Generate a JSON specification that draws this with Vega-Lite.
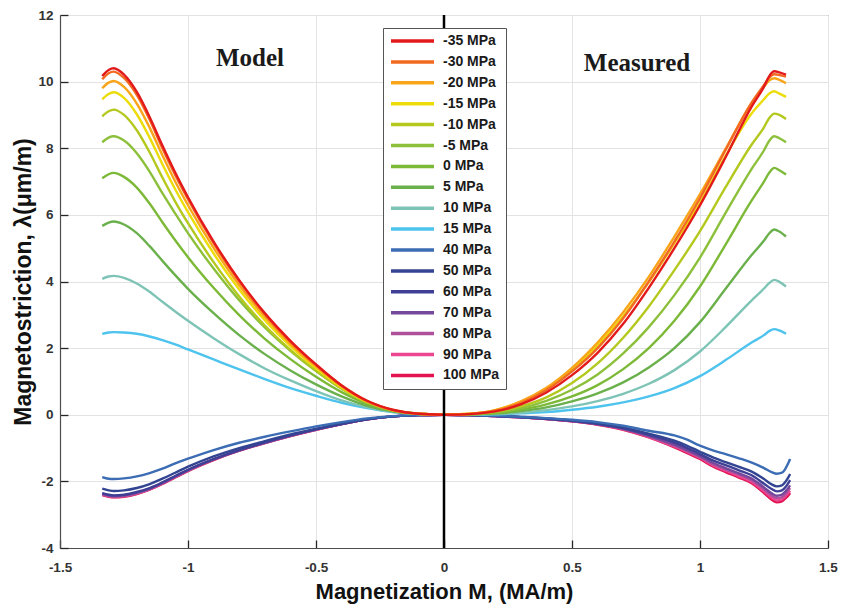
{
"$schema": "https://vega.github.io/schema/vega-lite/v6.json",
"width": 768, "height": 533,
"autosize": "none",
"padding": {"left": 60, "top": 15, "right": 13, "bottom": 63},
"background": "white",
"config": {
  "view": {"stroke": "#4d4d4d", "strokeWidth": 1},
  "font": "Liberation Sans",
  "axis": {"domainColor": "#4d4d4d", "domainWidth": 1.2, "gridColor": "#e3e3e3", "gridWidth": 1, "tickColor": "#262626", "tickWidth": 1.3, "tickSize": -8, "labelPadding": 15, "labelFont": "Liberation Sans", "labelFontWeight": "bold", "labelFontSize": 13.5, "labelColor": "#333333", "titleFont": "Liberation Sans", "titleFontWeight": "bold", "titleFontSize": 22, "titleColor": "#111111", "labelFlush": false, "labelOverlap": false}
},
"layer": [
{
"data": {"values": [
{"s":"100 MPa","p":"a","x":-1.335,"y":-2.41},{"s":"100 MPa","p":"a","x":-1.31,"y":-2.46},{"s":"100 MPa","p":"a","x":-1.29,"y":-2.48},{"s":"100 MPa","p":"a","x":-1.25,"y":-2.46},{"s":"100 MPa","p":"a","x":-1.2,"y":-2.38},{"s":"100 MPa","p":"a","x":-1.15,"y":-2.25},{"s":"100 MPa","p":"a","x":-1.1,"y":-2.08},{"s":"100 MPa","p":"a","x":-1.05,"y":-1.88},{"s":"100 MPa","p":"a","x":-1.0,"y":-1.69},{"s":"100 MPa","p":"a","x":-0.9,"y":-1.36},{"s":"100 MPa","p":"a","x":-0.8,"y":-1.08},{"s":"100 MPa","p":"a","x":-0.7,"y":-0.85},{"s":"100 MPa","p":"a","x":-0.6,"y":-0.64},{"s":"100 MPa","p":"a","x":-0.5,"y":-0.45},{"s":"100 MPa","p":"a","x":-0.4,"y":-0.28},{"s":"100 MPa","p":"a","x":-0.3,"y":-0.14},{"s":"100 MPa","p":"a","x":-0.2,"y":-0.05},{"s":"100 MPa","p":"a","x":-0.1,"y":-0.01},{"s":"100 MPa","p":"a","x":0,"y":0},
{"s":"100 MPa","p":"b","x":0,"y":0},{"s":"100 MPa","p":"b","x":0.1,"y":-0.01},{"s":"100 MPa","p":"b","x":0.2,"y":-0.04},{"s":"100 MPa","p":"b","x":0.3,"y":-0.08},{"s":"100 MPa","p":"b","x":0.4,"y":-0.13},{"s":"100 MPa","p":"b","x":0.5,"y":-0.2},{"s":"100 MPa","p":"b","x":0.6,"y":-0.3},{"s":"100 MPa","p":"b","x":0.7,"y":-0.45},{"s":"100 MPa","p":"b","x":0.8,"y":-0.68},{"s":"100 MPa","p":"b","x":0.9,"y":-0.98},{"s":"100 MPa","p":"b","x":0.95,"y":-1.15},{"s":"100 MPa","p":"b","x":1.0,"y":-1.33},{"s":"100 MPa","p":"b","x":1.05,"y":-1.55},{"s":"100 MPa","p":"b","x":1.1,"y":-1.72},{"s":"100 MPa","p":"b","x":1.15,"y":-1.88},{"s":"100 MPa","p":"b","x":1.2,"y":-2.05},{"s":"100 MPa","p":"b","x":1.25,"y":-2.35},{"s":"100 MPa","p":"b","x":1.28,"y":-2.55},{"s":"100 MPa","p":"b","x":1.3,"y":-2.63},{"s":"100 MPa","p":"b","x":1.32,"y":-2.6},{"s":"100 MPa","p":"b","x":1.335,"y":-2.5},{"s":"100 MPa","p":"b","x":1.345,"y":-2.42},{"s":"100 MPa","p":"b","x":1.352,"y":-2.35},
{"s":"90 MPa","p":"a","x":-1.335,"y":-2.4},{"s":"90 MPa","p":"a","x":-1.31,"y":-2.45},{"s":"90 MPa","p":"a","x":-1.29,"y":-2.47},{"s":"90 MPa","p":"a","x":-1.25,"y":-2.45},{"s":"90 MPa","p":"a","x":-1.2,"y":-2.37},{"s":"90 MPa","p":"a","x":-1.15,"y":-2.24},{"s":"90 MPa","p":"a","x":-1.1,"y":-2.07},{"s":"90 MPa","p":"a","x":-1.05,"y":-1.87},{"s":"90 MPa","p":"a","x":-1.0,"y":-1.68},{"s":"90 MPa","p":"a","x":-0.9,"y":-1.35},{"s":"90 MPa","p":"a","x":-0.8,"y":-1.08},{"s":"90 MPa","p":"a","x":-0.7,"y":-0.85},{"s":"90 MPa","p":"a","x":-0.6,"y":-0.64},{"s":"90 MPa","p":"a","x":-0.5,"y":-0.45},{"s":"90 MPa","p":"a","x":-0.4,"y":-0.28},{"s":"90 MPa","p":"a","x":-0.3,"y":-0.14},{"s":"90 MPa","p":"a","x":-0.2,"y":-0.05},{"s":"90 MPa","p":"a","x":-0.1,"y":-0.01},{"s":"90 MPa","p":"a","x":0,"y":0},
{"s":"90 MPa","p":"b","x":0,"y":0},{"s":"90 MPa","p":"b","x":0.1,"y":-0.01},{"s":"90 MPa","p":"b","x":0.2,"y":-0.04},{"s":"90 MPa","p":"b","x":0.3,"y":-0.08},{"s":"90 MPa","p":"b","x":0.4,"y":-0.13},{"s":"90 MPa","p":"b","x":0.5,"y":-0.2},{"s":"90 MPa","p":"b","x":0.6,"y":-0.29},{"s":"90 MPa","p":"b","x":0.7,"y":-0.44},{"s":"90 MPa","p":"b","x":0.8,"y":-0.67},{"s":"90 MPa","p":"b","x":0.9,"y":-0.96},{"s":"90 MPa","p":"b","x":0.95,"y":-1.12},{"s":"90 MPa","p":"b","x":1.0,"y":-1.3},{"s":"90 MPa","p":"b","x":1.05,"y":-1.52},{"s":"90 MPa","p":"b","x":1.1,"y":-1.68},{"s":"90 MPa","p":"b","x":1.15,"y":-1.84},{"s":"90 MPa","p":"b","x":1.2,"y":-2.01},{"s":"90 MPa","p":"b","x":1.25,"y":-2.3},{"s":"90 MPa","p":"b","x":1.28,"y":-2.49},{"s":"90 MPa","p":"b","x":1.3,"y":-2.57},{"s":"90 MPa","p":"b","x":1.32,"y":-2.54},{"s":"90 MPa","p":"b","x":1.335,"y":-2.44},{"s":"90 MPa","p":"b","x":1.345,"y":-2.35},{"s":"90 MPa","p":"b","x":1.352,"y":-2.28},
{"s":"80 MPa","p":"a","x":-1.335,"y":-2.39},{"s":"80 MPa","p":"a","x":-1.31,"y":-2.44},{"s":"80 MPa","p":"a","x":-1.29,"y":-2.46},{"s":"80 MPa","p":"a","x":-1.25,"y":-2.44},{"s":"80 MPa","p":"a","x":-1.2,"y":-2.36},{"s":"80 MPa","p":"a","x":-1.15,"y":-2.23},{"s":"80 MPa","p":"a","x":-1.1,"y":-2.06},{"s":"80 MPa","p":"a","x":-1.05,"y":-1.87},{"s":"80 MPa","p":"a","x":-1.0,"y":-1.68},{"s":"80 MPa","p":"a","x":-0.9,"y":-1.35},{"s":"80 MPa","p":"a","x":-0.8,"y":-1.08},{"s":"80 MPa","p":"a","x":-0.7,"y":-0.84},{"s":"80 MPa","p":"a","x":-0.6,"y":-0.63},{"s":"80 MPa","p":"a","x":-0.5,"y":-0.45},{"s":"80 MPa","p":"a","x":-0.4,"y":-0.28},{"s":"80 MPa","p":"a","x":-0.3,"y":-0.14},{"s":"80 MPa","p":"a","x":-0.2,"y":-0.05},{"s":"80 MPa","p":"a","x":-0.1,"y":-0.01},{"s":"80 MPa","p":"a","x":0,"y":0},
{"s":"80 MPa","p":"b","x":0,"y":0},{"s":"80 MPa","p":"b","x":0.1,"y":-0.01},{"s":"80 MPa","p":"b","x":0.2,"y":-0.04},{"s":"80 MPa","p":"b","x":0.3,"y":-0.08},{"s":"80 MPa","p":"b","x":0.4,"y":-0.13},{"s":"80 MPa","p":"b","x":0.5,"y":-0.19},{"s":"80 MPa","p":"b","x":0.6,"y":-0.29},{"s":"80 MPa","p":"b","x":0.7,"y":-0.43},{"s":"80 MPa","p":"b","x":0.8,"y":-0.65},{"s":"80 MPa","p":"b","x":0.9,"y":-0.93},{"s":"80 MPa","p":"b","x":0.95,"y":-1.09},{"s":"80 MPa","p":"b","x":1.0,"y":-1.27},{"s":"80 MPa","p":"b","x":1.05,"y":-1.48},{"s":"80 MPa","p":"b","x":1.1,"y":-1.64},{"s":"80 MPa","p":"b","x":1.15,"y":-1.79},{"s":"80 MPa","p":"b","x":1.2,"y":-1.96},{"s":"80 MPa","p":"b","x":1.25,"y":-2.24},{"s":"80 MPa","p":"b","x":1.28,"y":-2.43},{"s":"80 MPa","p":"b","x":1.3,"y":-2.5},{"s":"80 MPa","p":"b","x":1.32,"y":-2.47},{"s":"80 MPa","p":"b","x":1.335,"y":-2.37},{"s":"80 MPa","p":"b","x":1.345,"y":-2.27},{"s":"80 MPa","p":"b","x":1.352,"y":-2.2},
{"s":"70 MPa","p":"a","x":-1.335,"y":-2.37},{"s":"70 MPa","p":"a","x":-1.31,"y":-2.42},{"s":"70 MPa","p":"a","x":-1.29,"y":-2.44},{"s":"70 MPa","p":"a","x":-1.25,"y":-2.42},{"s":"70 MPa","p":"a","x":-1.2,"y":-2.34},{"s":"70 MPa","p":"a","x":-1.15,"y":-2.22},{"s":"70 MPa","p":"a","x":-1.1,"y":-2.05},{"s":"70 MPa","p":"a","x":-1.05,"y":-1.85},{"s":"70 MPa","p":"a","x":-1.0,"y":-1.66},{"s":"70 MPa","p":"a","x":-0.9,"y":-1.34},{"s":"70 MPa","p":"a","x":-0.8,"y":-1.07},{"s":"70 MPa","p":"a","x":-0.7,"y":-0.84},{"s":"70 MPa","p":"a","x":-0.6,"y":-0.63},{"s":"70 MPa","p":"a","x":-0.5,"y":-0.44},{"s":"70 MPa","p":"a","x":-0.4,"y":-0.28},{"s":"70 MPa","p":"a","x":-0.3,"y":-0.14},{"s":"70 MPa","p":"a","x":-0.2,"y":-0.05},{"s":"70 MPa","p":"a","x":-0.1,"y":-0.01},{"s":"70 MPa","p":"a","x":0,"y":0},
{"s":"70 MPa","p":"b","x":0,"y":0},{"s":"70 MPa","p":"b","x":0.1,"y":-0.01},{"s":"70 MPa","p":"b","x":0.2,"y":-0.04},{"s":"70 MPa","p":"b","x":0.3,"y":-0.08},{"s":"70 MPa","p":"b","x":0.4,"y":-0.12},{"s":"70 MPa","p":"b","x":0.5,"y":-0.19},{"s":"70 MPa","p":"b","x":0.6,"y":-0.28},{"s":"70 MPa","p":"b","x":0.7,"y":-0.42},{"s":"70 MPa","p":"b","x":0.8,"y":-0.63},{"s":"70 MPa","p":"b","x":0.9,"y":-0.9},{"s":"70 MPa","p":"b","x":0.95,"y":-1.06},{"s":"70 MPa","p":"b","x":1.0,"y":-1.24},{"s":"70 MPa","p":"b","x":1.05,"y":-1.44},{"s":"70 MPa","p":"b","x":1.1,"y":-1.6},{"s":"70 MPa","p":"b","x":1.15,"y":-1.75},{"s":"70 MPa","p":"b","x":1.2,"y":-1.91},{"s":"70 MPa","p":"b","x":1.25,"y":-2.18},{"s":"70 MPa","p":"b","x":1.28,"y":-2.36},{"s":"70 MPa","p":"b","x":1.3,"y":-2.43},{"s":"70 MPa","p":"b","x":1.32,"y":-2.4},{"s":"70 MPa","p":"b","x":1.335,"y":-2.29},{"s":"70 MPa","p":"b","x":1.345,"y":-2.2},{"s":"70 MPa","p":"b","x":1.352,"y":-2.12},
{"s":"60 MPa","p":"a","x":-1.335,"y":-2.35},{"s":"60 MPa","p":"a","x":-1.31,"y":-2.4},{"s":"60 MPa","p":"a","x":-1.29,"y":-2.42},{"s":"60 MPa","p":"a","x":-1.25,"y":-2.4},{"s":"60 MPa","p":"a","x":-1.2,"y":-2.32},{"s":"60 MPa","p":"a","x":-1.15,"y":-2.2},{"s":"60 MPa","p":"a","x":-1.1,"y":-2.03},{"s":"60 MPa","p":"a","x":-1.05,"y":-1.84},{"s":"60 MPa","p":"a","x":-1.0,"y":-1.65},{"s":"60 MPa","p":"a","x":-0.9,"y":-1.33},{"s":"60 MPa","p":"a","x":-0.8,"y":-1.06},{"s":"60 MPa","p":"a","x":-0.7,"y":-0.83},{"s":"60 MPa","p":"a","x":-0.6,"y":-0.62},{"s":"60 MPa","p":"a","x":-0.5,"y":-0.44},{"s":"60 MPa","p":"a","x":-0.4,"y":-0.28},{"s":"60 MPa","p":"a","x":-0.3,"y":-0.14},{"s":"60 MPa","p":"a","x":-0.2,"y":-0.05},{"s":"60 MPa","p":"a","x":-0.1,"y":-0.01},{"s":"60 MPa","p":"a","x":0,"y":0},
{"s":"60 MPa","p":"b","x":0,"y":0},{"s":"60 MPa","p":"b","x":0.1,"y":-0.01},{"s":"60 MPa","p":"b","x":0.2,"y":-0.04},{"s":"60 MPa","p":"b","x":0.3,"y":-0.07},{"s":"60 MPa","p":"b","x":0.4,"y":-0.12},{"s":"60 MPa","p":"b","x":0.5,"y":-0.18},{"s":"60 MPa","p":"b","x":0.6,"y":-0.27},{"s":"60 MPa","p":"b","x":0.7,"y":-0.4},{"s":"60 MPa","p":"b","x":0.8,"y":-0.6},{"s":"60 MPa","p":"b","x":0.9,"y":-0.84},{"s":"60 MPa","p":"b","x":0.95,"y":-1.0},{"s":"60 MPa","p":"b","x":1.0,"y":-1.18},{"s":"60 MPa","p":"b","x":1.05,"y":-1.37},{"s":"60 MPa","p":"b","x":1.1,"y":-1.51},{"s":"60 MPa","p":"b","x":1.15,"y":-1.66},{"s":"60 MPa","p":"b","x":1.2,"y":-1.81},{"s":"60 MPa","p":"b","x":1.25,"y":-2.07},{"s":"60 MPa","p":"b","x":1.28,"y":-2.23},{"s":"60 MPa","p":"b","x":1.3,"y":-2.3},{"s":"60 MPa","p":"b","x":1.32,"y":-2.27},{"s":"60 MPa","p":"b","x":1.335,"y":-2.16},{"s":"60 MPa","p":"b","x":1.345,"y":-2.05},{"s":"60 MPa","p":"b","x":1.352,"y":-1.96},
{"s":"50 MPa","p":"a","x":-1.335,"y":-2.22},{"s":"50 MPa","p":"a","x":-1.31,"y":-2.27},{"s":"50 MPa","p":"a","x":-1.29,"y":-2.29},{"s":"50 MPa","p":"a","x":-1.25,"y":-2.27},{"s":"50 MPa","p":"a","x":-1.2,"y":-2.2},{"s":"50 MPa","p":"a","x":-1.15,"y":-2.08},{"s":"50 MPa","p":"a","x":-1.1,"y":-1.92},{"s":"50 MPa","p":"a","x":-1.05,"y":-1.74},{"s":"50 MPa","p":"a","x":-1.0,"y":-1.56},{"s":"50 MPa","p":"a","x":-0.9,"y":-1.25},{"s":"50 MPa","p":"a","x":-0.8,"y":-1.0},{"s":"50 MPa","p":"a","x":-0.7,"y":-0.79},{"s":"50 MPa","p":"a","x":-0.6,"y":-0.59},{"s":"50 MPa","p":"a","x":-0.5,"y":-0.42},{"s":"50 MPa","p":"a","x":-0.4,"y":-0.26},{"s":"50 MPa","p":"a","x":-0.3,"y":-0.13},{"s":"50 MPa","p":"a","x":-0.2,"y":-0.05},{"s":"50 MPa","p":"a","x":-0.1,"y":-0.01},{"s":"50 MPa","p":"a","x":0,"y":0},
{"s":"50 MPa","p":"b","x":0,"y":0},{"s":"50 MPa","p":"b","x":0.1,"y":-0.01},{"s":"50 MPa","p":"b","x":0.2,"y":-0.03},{"s":"50 MPa","p":"b","x":0.3,"y":-0.07},{"s":"50 MPa","p":"b","x":0.4,"y":-0.11},{"s":"50 MPa","p":"b","x":0.5,"y":-0.17},{"s":"50 MPa","p":"b","x":0.6,"y":-0.26},{"s":"50 MPa","p":"b","x":0.7,"y":-0.38},{"s":"50 MPa","p":"b","x":0.8,"y":-0.57},{"s":"50 MPa","p":"b","x":0.9,"y":-0.78},{"s":"50 MPa","p":"b","x":0.95,"y":-0.93},{"s":"50 MPa","p":"b","x":1.0,"y":-1.11},{"s":"50 MPa","p":"b","x":1.05,"y":-1.28},{"s":"50 MPa","p":"b","x":1.1,"y":-1.42},{"s":"50 MPa","p":"b","x":1.15,"y":-1.56},{"s":"50 MPa","p":"b","x":1.2,"y":-1.7},{"s":"50 MPa","p":"b","x":1.25,"y":-1.93},{"s":"50 MPa","p":"b","x":1.28,"y":-2.09},{"s":"50 MPa","p":"b","x":1.3,"y":-2.15},{"s":"50 MPa","p":"b","x":1.32,"y":-2.12},{"s":"50 MPa","p":"b","x":1.335,"y":-2.0},{"s":"50 MPa","p":"b","x":1.345,"y":-1.88},{"s":"50 MPa","p":"b","x":1.352,"y":-1.78},
{"s":"40 MPa","p":"a","x":-1.335,"y":-1.87},{"s":"40 MPa","p":"a","x":-1.31,"y":-1.92},{"s":"40 MPa","p":"a","x":-1.29,"y":-1.93},{"s":"40 MPa","p":"a","x":-1.25,"y":-1.91},{"s":"40 MPa","p":"a","x":-1.2,"y":-1.85},{"s":"40 MPa","p":"a","x":-1.15,"y":-1.75},{"s":"40 MPa","p":"a","x":-1.1,"y":-1.62},{"s":"40 MPa","p":"a","x":-1.05,"y":-1.46},{"s":"40 MPa","p":"a","x":-1.0,"y":-1.32},{"s":"40 MPa","p":"a","x":-0.9,"y":-1.06},{"s":"40 MPa","p":"a","x":-0.8,"y":-0.84},{"s":"40 MPa","p":"a","x":-0.7,"y":-0.66},{"s":"40 MPa","p":"a","x":-0.6,"y":-0.5},{"s":"40 MPa","p":"a","x":-0.5,"y":-0.35},{"s":"40 MPa","p":"a","x":-0.4,"y":-0.22},{"s":"40 MPa","p":"a","x":-0.3,"y":-0.11},{"s":"40 MPa","p":"a","x":-0.2,"y":-0.04},{"s":"40 MPa","p":"a","x":-0.1,"y":-0.01},{"s":"40 MPa","p":"a","x":0,"y":0},
{"s":"40 MPa","p":"b","x":0,"y":0},{"s":"40 MPa","p":"b","x":0.1,"y":-0.01},{"s":"40 MPa","p":"b","x":0.2,"y":-0.03},{"s":"40 MPa","p":"b","x":0.3,"y":-0.06},{"s":"40 MPa","p":"b","x":0.4,"y":-0.1},{"s":"40 MPa","p":"b","x":0.5,"y":-0.15},{"s":"40 MPa","p":"b","x":0.6,"y":-0.22},{"s":"40 MPa","p":"b","x":0.7,"y":-0.33},{"s":"40 MPa","p":"b","x":0.8,"y":-0.48},{"s":"40 MPa","p":"b","x":0.9,"y":-0.62},{"s":"40 MPa","p":"b","x":0.95,"y":-0.75},{"s":"40 MPa","p":"b","x":1.0,"y":-0.93},{"s":"40 MPa","p":"b","x":1.05,"y":-1.07},{"s":"40 MPa","p":"b","x":1.1,"y":-1.18},{"s":"40 MPa","p":"b","x":1.15,"y":-1.3},{"s":"40 MPa","p":"b","x":1.2,"y":-1.43},{"s":"40 MPa","p":"b","x":1.25,"y":-1.6},{"s":"40 MPa","p":"b","x":1.28,"y":-1.72},{"s":"40 MPa","p":"b","x":1.3,"y":-1.77},{"s":"40 MPa","p":"b","x":1.32,"y":-1.74},{"s":"40 MPa","p":"b","x":1.335,"y":-1.6},{"s":"40 MPa","p":"b","x":1.345,"y":-1.45},{"s":"40 MPa","p":"b","x":1.352,"y":-1.33},
{"s":"15 MPa","p":"a","x":-1.335,"y":2.43},{"s":"15 MPa","p":"a","x":-1.31,"y":2.47},{"s":"15 MPa","p":"a","x":-1.29,"y":2.48},{"s":"15 MPa","p":"a","x":-1.25,"y":2.47},{"s":"15 MPa","p":"a","x":-1.2,"y":2.43},{"s":"15 MPa","p":"a","x":-1.15,"y":2.35},{"s":"15 MPa","p":"a","x":-1.1,"y":2.24},{"s":"15 MPa","p":"a","x":-1.05,"y":2.11},{"s":"15 MPa","p":"a","x":-1.0,"y":1.96},{"s":"15 MPa","p":"a","x":-0.9,"y":1.66},{"s":"15 MPa","p":"a","x":-0.8,"y":1.36},{"s":"15 MPa","p":"a","x":-0.7,"y":1.07},{"s":"15 MPa","p":"a","x":-0.6,"y":0.8},{"s":"15 MPa","p":"a","x":-0.5,"y":0.57},{"s":"15 MPa","p":"a","x":-0.4,"y":0.36},{"s":"15 MPa","p":"a","x":-0.3,"y":0.2},{"s":"15 MPa","p":"a","x":-0.2,"y":0.08},{"s":"15 MPa","p":"a","x":-0.1,"y":0.02},{"s":"15 MPa","p":"a","x":0,"y":0},
{"s":"15 MPa","p":"b","x":0,"y":0},{"s":"15 MPa","p":"b","x":0.1,"y":0},{"s":"15 MPa","p":"b","x":0.2,"y":0.01},{"s":"15 MPa","p":"b","x":0.3,"y":0.04},{"s":"15 MPa","p":"b","x":0.4,"y":0.08},{"s":"15 MPa","p":"b","x":0.5,"y":0.15},{"s":"15 MPa","p":"b","x":0.6,"y":0.24},{"s":"15 MPa","p":"b","x":0.7,"y":0.37},{"s":"15 MPa","p":"b","x":0.8,"y":0.55},{"s":"15 MPa","p":"b","x":0.9,"y":0.8},{"s":"15 MPa","p":"b","x":1.0,"y":1.16},{"s":"15 MPa","p":"b","x":1.1,"y":1.64},{"s":"15 MPa","p":"b","x":1.2,"y":2.16},{"s":"15 MPa","p":"b","x":1.25,"y":2.39},{"s":"15 MPa","p":"b","x":1.27,"y":2.51},{"s":"15 MPa","p":"b","x":1.29,"y":2.57},{"s":"15 MPa","p":"b","x":1.31,"y":2.53},{"s":"15 MPa","p":"b","x":1.336,"y":2.43},
{"s":"10 MPa","p":"a","x":-1.335,"y":4.08},{"s":"10 MPa","p":"a","x":-1.31,"y":4.15},{"s":"10 MPa","p":"a","x":-1.29,"y":4.17},{"s":"10 MPa","p":"a","x":-1.25,"y":4.11},{"s":"10 MPa","p":"a","x":-1.2,"y":3.94},{"s":"10 MPa","p":"a","x":-1.15,"y":3.69},{"s":"10 MPa","p":"a","x":-1.1,"y":3.39},{"s":"10 MPa","p":"a","x":-1.05,"y":3.1},{"s":"10 MPa","p":"a","x":-1.0,"y":2.82},{"s":"10 MPa","p":"a","x":-0.9,"y":2.3},{"s":"10 MPa","p":"a","x":-0.8,"y":1.82},{"s":"10 MPa","p":"a","x":-0.7,"y":1.39},{"s":"10 MPa","p":"a","x":-0.6,"y":1.03},{"s":"10 MPa","p":"a","x":-0.5,"y":0.71},{"s":"10 MPa","p":"a","x":-0.4,"y":0.43},{"s":"10 MPa","p":"a","x":-0.3,"y":0.22},{"s":"10 MPa","p":"a","x":-0.2,"y":0.08},{"s":"10 MPa","p":"a","x":-0.1,"y":0.02},{"s":"10 MPa","p":"a","x":0,"y":0},
{"s":"10 MPa","p":"b","x":0,"y":0},{"s":"10 MPa","p":"b","x":0.1,"y":0},{"s":"10 MPa","p":"b","x":0.2,"y":0.02},{"s":"10 MPa","p":"b","x":0.3,"y":0.06},{"s":"10 MPa","p":"b","x":0.4,"y":0.14},{"s":"10 MPa","p":"b","x":0.5,"y":0.25},{"s":"10 MPa","p":"b","x":0.6,"y":0.41},{"s":"10 MPa","p":"b","x":0.7,"y":0.63},{"s":"10 MPa","p":"b","x":0.8,"y":0.93},{"s":"10 MPa","p":"b","x":0.9,"y":1.34},{"s":"10 MPa","p":"b","x":1.0,"y":1.9},{"s":"10 MPa","p":"b","x":1.1,"y":2.63},{"s":"10 MPa","p":"b","x":1.2,"y":3.42},{"s":"10 MPa","p":"b","x":1.25,"y":3.79},{"s":"10 MPa","p":"b","x":1.27,"y":3.95},{"s":"10 MPa","p":"b","x":1.29,"y":4.05},{"s":"10 MPa","p":"b","x":1.31,"y":3.99},{"s":"10 MPa","p":"b","x":1.336,"y":3.85},
{"s":"5 MPa","p":"a","x":-1.335,"y":5.67},{"s":"5 MPa","p":"a","x":-1.31,"y":5.77},{"s":"5 MPa","p":"a","x":-1.29,"y":5.8},{"s":"5 MPa","p":"a","x":-1.25,"y":5.71},{"s":"5 MPa","p":"a","x":-1.2,"y":5.45},{"s":"5 MPa","p":"a","x":-1.15,"y":5.06},{"s":"5 MPa","p":"a","x":-1.1,"y":4.62},{"s":"5 MPa","p":"a","x":-1.05,"y":4.19},{"s":"5 MPa","p":"a","x":-1.0,"y":3.78},{"s":"5 MPa","p":"a","x":-0.9,"y":3.05},{"s":"5 MPa","p":"a","x":-0.8,"y":2.39},{"s":"5 MPa","p":"a","x":-0.7,"y":1.82},{"s":"5 MPa","p":"a","x":-0.6,"y":1.33},{"s":"5 MPa","p":"a","x":-0.5,"y":0.91},{"s":"5 MPa","p":"a","x":-0.4,"y":0.55},{"s":"5 MPa","p":"a","x":-0.3,"y":0.27},{"s":"5 MPa","p":"a","x":-0.2,"y":0.1},{"s":"5 MPa","p":"a","x":-0.1,"y":0.02},{"s":"5 MPa","p":"a","x":0,"y":0},
{"s":"5 MPa","p":"b","x":0,"y":0},{"s":"5 MPa","p":"b","x":0.1,"y":0.01},{"s":"5 MPa","p":"b","x":0.2,"y":0.04},{"s":"5 MPa","p":"b","x":0.3,"y":0.11},{"s":"5 MPa","p":"b","x":0.4,"y":0.22},{"s":"5 MPa","p":"b","x":0.5,"y":0.4},{"s":"5 MPa","p":"b","x":0.6,"y":0.64},{"s":"5 MPa","p":"b","x":0.7,"y":0.97},{"s":"5 MPa","p":"b","x":0.8,"y":1.42},{"s":"5 MPa","p":"b","x":0.9,"y":2.0},{"s":"5 MPa","p":"b","x":1.0,"y":2.78},{"s":"5 MPa","p":"b","x":1.1,"y":3.78},{"s":"5 MPa","p":"b","x":1.2,"y":4.78},{"s":"5 MPa","p":"b","x":1.25,"y":5.23},{"s":"5 MPa","p":"b","x":1.27,"y":5.44},{"s":"5 MPa","p":"b","x":1.29,"y":5.56},{"s":"5 MPa","p":"b","x":1.31,"y":5.5},{"s":"5 MPa","p":"b","x":1.336,"y":5.35},
{"s":"0 MPa","p":"a","x":-1.335,"y":7.1},{"s":"0 MPa","p":"a","x":-1.31,"y":7.22},{"s":"0 MPa","p":"a","x":-1.29,"y":7.26},{"s":"0 MPa","p":"a","x":-1.25,"y":7.14},{"s":"0 MPa","p":"a","x":-1.2,"y":6.82},{"s":"0 MPa","p":"a","x":-1.15,"y":6.34},{"s":"0 MPa","p":"a","x":-1.1,"y":5.78},{"s":"0 MPa","p":"a","x":-1.05,"y":5.24},{"s":"0 MPa","p":"a","x":-1.0,"y":4.73},{"s":"0 MPa","p":"a","x":-0.9,"y":3.81},{"s":"0 MPa","p":"a","x":-0.8,"y":2.99},{"s":"0 MPa","p":"a","x":-0.7,"y":2.28},{"s":"0 MPa","p":"a","x":-0.6,"y":1.67},{"s":"0 MPa","p":"a","x":-0.5,"y":1.14},{"s":"0 MPa","p":"a","x":-0.4,"y":0.68},{"s":"0 MPa","p":"a","x":-0.3,"y":0.33},{"s":"0 MPa","p":"a","x":-0.2,"y":0.12},{"s":"0 MPa","p":"a","x":-0.1,"y":0.03},{"s":"0 MPa","p":"a","x":0,"y":0},
{"s":"0 MPa","p":"b","x":0,"y":0},{"s":"0 MPa","p":"b","x":0.1,"y":0.01},{"s":"0 MPa","p":"b","x":0.2,"y":0.05},{"s":"0 MPa","p":"b","x":0.3,"y":0.15},{"s":"0 MPa","p":"b","x":0.4,"y":0.31},{"s":"0 MPa","p":"b","x":0.5,"y":0.55},{"s":"0 MPa","p":"b","x":0.6,"y":0.89},{"s":"0 MPa","p":"b","x":0.7,"y":1.37},{"s":"0 MPa","p":"b","x":0.8,"y":2.0},{"s":"0 MPa","p":"b","x":0.9,"y":2.82},{"s":"0 MPa","p":"b","x":1.0,"y":3.85},{"s":"0 MPa","p":"b","x":1.1,"y":5.11},{"s":"0 MPa","p":"b","x":1.2,"y":6.41},{"s":"0 MPa","p":"b","x":1.25,"y":7.0},{"s":"0 MPa","p":"b","x":1.27,"y":7.26},{"s":"0 MPa","p":"b","x":1.29,"y":7.41},{"s":"0 MPa","p":"b","x":1.31,"y":7.34},{"s":"0 MPa","p":"b","x":1.336,"y":7.21},
{"s":"-5 MPa","p":"a","x":-1.335,"y":8.18},{"s":"-5 MPa","p":"a","x":-1.31,"y":8.32},{"s":"-5 MPa","p":"a","x":-1.29,"y":8.36},{"s":"-5 MPa","p":"a","x":-1.25,"y":8.23},{"s":"-5 MPa","p":"a","x":-1.2,"y":7.85},{"s":"-5 MPa","p":"a","x":-1.15,"y":7.3},{"s":"-5 MPa","p":"a","x":-1.1,"y":6.65},{"s":"-5 MPa","p":"a","x":-1.05,"y":6.04},{"s":"-5 MPa","p":"a","x":-1.0,"y":5.45},{"s":"-5 MPa","p":"a","x":-0.9,"y":4.39},{"s":"-5 MPa","p":"a","x":-0.8,"y":3.44},{"s":"-5 MPa","p":"a","x":-0.7,"y":2.62},{"s":"-5 MPa","p":"a","x":-0.6,"y":1.92},{"s":"-5 MPa","p":"a","x":-0.5,"y":1.31},{"s":"-5 MPa","p":"a","x":-0.4,"y":0.79},{"s":"-5 MPa","p":"a","x":-0.3,"y":0.38},{"s":"-5 MPa","p":"a","x":-0.2,"y":0.14},{"s":"-5 MPa","p":"a","x":-0.1,"y":0.03},{"s":"-5 MPa","p":"a","x":0,"y":0},
{"s":"-5 MPa","p":"b","x":0,"y":0},{"s":"-5 MPa","p":"b","x":0.1,"y":0.02},{"s":"-5 MPa","p":"b","x":0.2,"y":0.07},{"s":"-5 MPa","p":"b","x":0.3,"y":0.2},{"s":"-5 MPa","p":"b","x":0.4,"y":0.42},{"s":"-5 MPa","p":"b","x":0.5,"y":0.75},{"s":"-5 MPa","p":"b","x":0.6,"y":1.21},{"s":"-5 MPa","p":"b","x":0.7,"y":1.84},{"s":"-5 MPa","p":"b","x":0.8,"y":2.63},{"s":"-5 MPa","p":"b","x":0.9,"y":3.59},{"s":"-5 MPa","p":"b","x":1.0,"y":4.72},{"s":"-5 MPa","p":"b","x":1.1,"y":6.06},{"s":"-5 MPa","p":"b","x":1.2,"y":7.36},{"s":"-5 MPa","p":"b","x":1.25,"y":7.94},{"s":"-5 MPa","p":"b","x":1.27,"y":8.22},{"s":"-5 MPa","p":"b","x":1.29,"y":8.36},{"s":"-5 MPa","p":"b","x":1.31,"y":8.3},{"s":"-5 MPa","p":"b","x":1.336,"y":8.18},
{"s":"-10 MPa","p":"a","x":-1.335,"y":8.96},{"s":"-10 MPa","p":"a","x":-1.31,"y":9.11},{"s":"-10 MPa","p":"a","x":-1.29,"y":9.16},{"s":"-10 MPa","p":"a","x":-1.25,"y":9.0},{"s":"-10 MPa","p":"a","x":-1.2,"y":8.54},{"s":"-10 MPa","p":"a","x":-1.15,"y":7.88},{"s":"-10 MPa","p":"a","x":-1.1,"y":7.12},{"s":"-10 MPa","p":"a","x":-1.05,"y":6.4},{"s":"-10 MPa","p":"a","x":-1.0,"y":5.75},{"s":"-10 MPa","p":"a","x":-0.9,"y":4.58},{"s":"-10 MPa","p":"a","x":-0.8,"y":3.55},{"s":"-10 MPa","p":"a","x":-0.7,"y":2.68},{"s":"-10 MPa","p":"a","x":-0.6,"y":1.95},{"s":"-10 MPa","p":"a","x":-0.5,"y":1.33},{"s":"-10 MPa","p":"a","x":-0.4,"y":0.78},{"s":"-10 MPa","p":"a","x":-0.3,"y":0.37},{"s":"-10 MPa","p":"a","x":-0.2,"y":0.13},{"s":"-10 MPa","p":"a","x":-0.1,"y":0.03},{"s":"-10 MPa","p":"a","x":0,"y":0},
{"s":"-10 MPa","p":"b","x":0,"y":0},{"s":"-10 MPa","p":"b","x":0.1,"y":0.02},{"s":"-10 MPa","p":"b","x":0.2,"y":0.09},{"s":"-10 MPa","p":"b","x":0.3,"y":0.25},{"s":"-10 MPa","p":"b","x":0.4,"y":0.52},{"s":"-10 MPa","p":"b","x":0.5,"y":0.95},{"s":"-10 MPa","p":"b","x":0.6,"y":1.54},{"s":"-10 MPa","p":"b","x":0.7,"y":2.31},{"s":"-10 MPa","p":"b","x":0.8,"y":3.25},{"s":"-10 MPa","p":"b","x":0.9,"y":4.34},{"s":"-10 MPa","p":"b","x":1.0,"y":5.51},{"s":"-10 MPa","p":"b","x":1.1,"y":6.83},{"s":"-10 MPa","p":"b","x":1.2,"y":8.09},{"s":"-10 MPa","p":"b","x":1.25,"y":8.63},{"s":"-10 MPa","p":"b","x":1.27,"y":8.9},{"s":"-10 MPa","p":"b","x":1.29,"y":9.04},{"s":"-10 MPa","p":"b","x":1.31,"y":9.0},{"s":"-10 MPa","p":"b","x":1.336,"y":8.88},
{"s":"-15 MPa","p":"a","x":-1.335,"y":9.47},{"s":"-15 MPa","p":"a","x":-1.31,"y":9.63},{"s":"-15 MPa","p":"a","x":-1.29,"y":9.68},{"s":"-15 MPa","p":"a","x":-1.25,"y":9.51},{"s":"-15 MPa","p":"a","x":-1.2,"y":9.02},{"s":"-15 MPa","p":"a","x":-1.15,"y":8.32},{"s":"-15 MPa","p":"a","x":-1.1,"y":7.52},{"s":"-15 MPa","p":"a","x":-1.05,"y":6.77},{"s":"-15 MPa","p":"a","x":-1.0,"y":6.08},{"s":"-15 MPa","p":"a","x":-0.9,"y":4.84},{"s":"-15 MPa","p":"a","x":-0.8,"y":3.76},{"s":"-15 MPa","p":"a","x":-0.7,"y":2.84},{"s":"-15 MPa","p":"a","x":-0.6,"y":2.06},{"s":"-15 MPa","p":"a","x":-0.5,"y":1.4},{"s":"-15 MPa","p":"a","x":-0.4,"y":0.82},{"s":"-15 MPa","p":"a","x":-0.3,"y":0.39},{"s":"-15 MPa","p":"a","x":-0.2,"y":0.14},{"s":"-15 MPa","p":"a","x":-0.1,"y":0.03},{"s":"-15 MPa","p":"a","x":0,"y":0},
{"s":"-15 MPa","p":"b","x":0,"y":0},{"s":"-15 MPa","p":"b","x":0.1,"y":0.03},{"s":"-15 MPa","p":"b","x":0.2,"y":0.14},{"s":"-15 MPa","p":"b","x":0.3,"y":0.39},{"s":"-15 MPa","p":"b","x":0.4,"y":0.78},{"s":"-15 MPa","p":"b","x":0.5,"y":1.36},{"s":"-15 MPa","p":"b","x":0.6,"y":2.09},{"s":"-15 MPa","p":"b","x":0.7,"y":2.96},{"s":"-15 MPa","p":"b","x":0.8,"y":3.98},{"s":"-15 MPa","p":"b","x":0.9,"y":5.15},{"s":"-15 MPa","p":"b","x":1.0,"y":6.36},{"s":"-15 MPa","p":"b","x":1.1,"y":7.77},{"s":"-15 MPa","p":"b","x":1.2,"y":9.03},{"s":"-15 MPa","p":"b","x":1.25,"y":9.47},{"s":"-15 MPa","p":"b","x":1.27,"y":9.64},{"s":"-15 MPa","p":"b","x":1.29,"y":9.71},{"s":"-15 MPa","p":"b","x":1.31,"y":9.64},{"s":"-15 MPa","p":"b","x":1.336,"y":9.54},
{"s":"-20 MPa","p":"a","x":-1.335,"y":9.8},{"s":"-20 MPa","p":"a","x":-1.31,"y":9.97},{"s":"-20 MPa","p":"a","x":-1.29,"y":10.02},{"s":"-20 MPa","p":"a","x":-1.25,"y":9.84},{"s":"-20 MPa","p":"a","x":-1.2,"y":9.34},{"s":"-20 MPa","p":"a","x":-1.15,"y":8.62},{"s":"-20 MPa","p":"a","x":-1.1,"y":7.79},{"s":"-20 MPa","p":"a","x":-1.05,"y":7.0},{"s":"-20 MPa","p":"a","x":-1.0,"y":6.29},{"s":"-20 MPa","p":"a","x":-0.9,"y":5.01},{"s":"-20 MPa","p":"a","x":-0.8,"y":3.89},{"s":"-20 MPa","p":"a","x":-0.7,"y":2.94},{"s":"-20 MPa","p":"a","x":-0.6,"y":2.13},{"s":"-20 MPa","p":"a","x":-0.5,"y":1.45},{"s":"-20 MPa","p":"a","x":-0.4,"y":0.85},{"s":"-20 MPa","p":"a","x":-0.3,"y":0.4},{"s":"-20 MPa","p":"a","x":-0.2,"y":0.14},{"s":"-20 MPa","p":"a","x":-0.1,"y":0.03},{"s":"-20 MPa","p":"a","x":0,"y":0},
{"s":"-20 MPa","p":"b","x":0,"y":0},{"s":"-20 MPa","p":"b","x":0.1,"y":0.03},{"s":"-20 MPa","p":"b","x":0.2,"y":0.14},{"s":"-20 MPa","p":"b","x":0.3,"y":0.4},{"s":"-20 MPa","p":"b","x":0.4,"y":0.81},{"s":"-20 MPa","p":"b","x":0.5,"y":1.41},{"s":"-20 MPa","p":"b","x":0.6,"y":2.17},{"s":"-20 MPa","p":"b","x":0.7,"y":3.08},{"s":"-20 MPa","p":"b","x":0.8,"y":4.14},{"s":"-20 MPa","p":"b","x":0.9,"y":5.35},{"s":"-20 MPa","p":"b","x":1.0,"y":6.62},{"s":"-20 MPa","p":"b","x":1.1,"y":7.98},{"s":"-20 MPa","p":"b","x":1.2,"y":9.34},{"s":"-20 MPa","p":"b","x":1.25,"y":9.85},{"s":"-20 MPa","p":"b","x":1.27,"y":10.03},{"s":"-20 MPa","p":"b","x":1.29,"y":10.1},{"s":"-20 MPa","p":"b","x":1.31,"y":10.05},{"s":"-20 MPa","p":"b","x":1.336,"y":9.95},
{"s":"-30 MPa","p":"a","x":-1.335,"y":10.07},{"s":"-30 MPa","p":"a","x":-1.31,"y":10.25},{"s":"-30 MPa","p":"a","x":-1.29,"y":10.3},{"s":"-30 MPa","p":"a","x":-1.25,"y":10.11},{"s":"-30 MPa","p":"a","x":-1.2,"y":9.6},{"s":"-30 MPa","p":"a","x":-1.15,"y":8.86},{"s":"-30 MPa","p":"a","x":-1.1,"y":8.0},{"s":"-30 MPa","p":"a","x":-1.05,"y":7.2},{"s":"-30 MPa","p":"a","x":-1.0,"y":6.47},{"s":"-30 MPa","p":"a","x":-0.9,"y":5.15},{"s":"-30 MPa","p":"a","x":-0.8,"y":4.0},{"s":"-30 MPa","p":"a","x":-0.7,"y":3.02},{"s":"-30 MPa","p":"a","x":-0.6,"y":2.19},{"s":"-30 MPa","p":"a","x":-0.5,"y":1.49},{"s":"-30 MPa","p":"a","x":-0.4,"y":0.88},{"s":"-30 MPa","p":"a","x":-0.3,"y":0.41},{"s":"-30 MPa","p":"a","x":-0.2,"y":0.14},{"s":"-30 MPa","p":"a","x":-0.1,"y":0.03},{"s":"-30 MPa","p":"a","x":0,"y":0},
{"s":"-30 MPa","p":"b","x":0,"y":0},{"s":"-30 MPa","p":"b","x":0.1,"y":0.025},{"s":"-30 MPa","p":"b","x":0.2,"y":0.12},{"s":"-30 MPa","p":"b","x":0.3,"y":0.35},{"s":"-30 MPa","p":"b","x":0.4,"y":0.74},{"s":"-30 MPa","p":"b","x":0.5,"y":1.3},{"s":"-30 MPa","p":"b","x":0.6,"y":2.0},{"s":"-30 MPa","p":"b","x":0.7,"y":2.9},{"s":"-30 MPa","p":"b","x":0.8,"y":4.0},{"s":"-30 MPa","p":"b","x":0.9,"y":5.2},{"s":"-30 MPa","p":"b","x":1.0,"y":6.5},{"s":"-30 MPa","p":"b","x":1.1,"y":7.95},{"s":"-30 MPa","p":"b","x":1.2,"y":9.35},{"s":"-30 MPa","p":"b","x":1.25,"y":9.9},{"s":"-30 MPa","p":"b","x":1.27,"y":10.12},{"s":"-30 MPa","p":"b","x":1.29,"y":10.22},{"s":"-30 MPa","p":"b","x":1.31,"y":10.2},{"s":"-30 MPa","p":"b","x":1.336,"y":10.15},
{"s":"-35 MPa","p":"a","x":-1.335,"y":10.17},{"s":"-35 MPa","p":"a","x":-1.31,"y":10.35},{"s":"-35 MPa","p":"a","x":-1.29,"y":10.4},{"s":"-35 MPa","p":"a","x":-1.25,"y":10.21},{"s":"-35 MPa","p":"a","x":-1.2,"y":9.69},{"s":"-35 MPa","p":"a","x":-1.15,"y":8.94},{"s":"-35 MPa","p":"a","x":-1.1,"y":8.08},{"s":"-35 MPa","p":"a","x":-1.05,"y":7.27},{"s":"-35 MPa","p":"a","x":-1.0,"y":6.53},{"s":"-35 MPa","p":"a","x":-0.9,"y":5.2},{"s":"-35 MPa","p":"a","x":-0.8,"y":4.04},{"s":"-35 MPa","p":"a","x":-0.7,"y":3.05},{"s":"-35 MPa","p":"a","x":-0.6,"y":2.22},{"s":"-35 MPa","p":"a","x":-0.5,"y":1.51},{"s":"-35 MPa","p":"a","x":-0.4,"y":0.88},{"s":"-35 MPa","p":"a","x":-0.3,"y":0.42},{"s":"-35 MPa","p":"a","x":-0.2,"y":0.15},{"s":"-35 MPa","p":"a","x":-0.1,"y":0.03},{"s":"-35 MPa","p":"a","x":0,"y":0},
{"s":"-35 MPa","p":"b","x":0,"y":0},{"s":"-35 MPa","p":"b","x":0.1,"y":0.02},{"s":"-35 MPa","p":"b","x":0.2,"y":0.1},{"s":"-35 MPa","p":"b","x":0.3,"y":0.31},{"s":"-35 MPa","p":"b","x":0.4,"y":0.67},{"s":"-35 MPa","p":"b","x":0.5,"y":1.19},{"s":"-35 MPa","p":"b","x":0.6,"y":1.86},{"s":"-35 MPa","p":"b","x":0.7,"y":2.73},{"s":"-35 MPa","p":"b","x":0.8,"y":3.81},{"s":"-35 MPa","p":"b","x":0.9,"y":5.0},{"s":"-35 MPa","p":"b","x":1.0,"y":6.29},{"s":"-35 MPa","p":"b","x":1.1,"y":7.73},{"s":"-35 MPa","p":"b","x":1.2,"y":9.23},{"s":"-35 MPa","p":"b","x":1.25,"y":9.85},{"s":"-35 MPa","p":"b","x":1.27,"y":10.16},{"s":"-35 MPa","p":"b","x":1.29,"y":10.31},{"s":"-35 MPa","p":"b","x":1.31,"y":10.28},{"s":"-35 MPa","p":"b","x":1.336,"y":10.21}
]},
"mark": {"type": "line", "strokeWidth": 2.4, "interpolate": "monotone", "clip": true},
"encoding": {
  "x": {"field": "x", "type": "quantitative", "scale": {"domain": [-1.5, 1.5], "nice": false, "zero": false}, "axis": {"values": [-1.5, -1, -0.5, 0, 0.5, 1, 1.5], "labelExpr": "datum.value + ''", "title": "Magnetization M, (MA/m)", "labelPadding": 20, "titlePadding": 8}},
  "y": {"field": "y", "type": "quantitative", "scale": {"domain": [-4, 12], "nice": false, "zero": false}, "axis": {"values": [-4, -2, 0, 2, 4, 6, 8, 10, 12], "labelExpr": "datum.value + ''", "title": "Magnetostriction, λ(μm/m)", "titleFontSize": 23, "titlePadding": 2}},
  "color": {"field": "s", "type": "nominal",
    "scale": {"domain": ["-35 MPa","-30 MPa","-20 MPa","-15 MPa","-10 MPa","-5 MPa","0 MPa","5 MPa","10 MPa","15 MPa","40 MPa","50 MPa","60 MPa","70 MPa","80 MPa","90 MPa","100 MPa"],
              "range": ["#e31a1c","#f26a21","#f9a51a","#ecdc0a","#b4c81e","#8dc03a","#7cb937","#6ab04c","#7ec4b6","#4dc3ee","#3c6cb4","#334592","#3e3f95","#75489c","#b04f9c","#ec4592","#e2134f"]},
    "legend": {"title": null, "orient": "none", "legendX": 323, "legendY": 13, "symbolType": "stroke", "symbolSize": 1849, "symbolStrokeWidth": 3.5, "clipHeight": 14, "rowPadding": 6.9, "padding": 6, "labelFont": "Liberation Sans", "labelFontSize": 14, "labelFontWeight": "bold", "labelColor": "#1a1a1a", "labelOffset": 7, "strokeColor": "#555555", "fillColor": "white", "symbolOffset": 0, "labelLimit": 200}},
  "detail": {"field": "p"}
}
},
{
"data": {"values": [{"z": 0}]},
"mark": {"type": "rule", "color": "black", "strokeWidth": 2.5},
"encoding": {"x": {"field": "z", "type": "quantitative"}}
},
{
"data": {"values": [{"x": -0.758, "y": 10.71, "t": "Model"}, {"x": 0.754, "y": 10.56, "t": "Measured"}]},
"mark": {"type": "text", "font": "Liberation Serif", "fontWeight": "bold", "fontSize": 25, "color": "#1a1a1a"},
"encoding": {"x": {"field": "x", "type": "quantitative"}, "y": {"field": "y", "type": "quantitative"}, "text": {"field": "t"}}
}
]
}
